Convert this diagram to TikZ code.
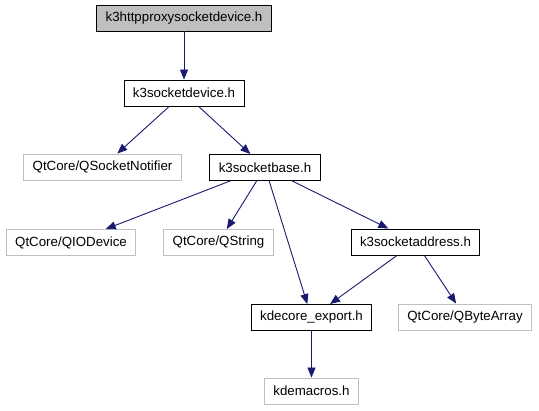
\documentclass[tikz,border=0pt]{standalone}
\usepackage{fontspec}
\setmainfont{Liberation Sans}
\usepackage{xcolor}
\usepackage{tikz}
\usetikzlibrary{arrows.meta,positioning}

\definecolor{edgeblue}{RGB}{25,25,112}
\definecolor{extgray}{RGB}{191,191,191}

\begin{document}
\begin{tikzpicture}[
            x=1pt, y=-1pt,
            font=\fontsize{13.3}{16}\selectfont,
        % Headers inside the project: black frame, white fill.
            hdr/.style={draw=black, rectangle, fill=white, line width=0.9pt,
            minimum height=26pt, inner xsep=9pt, inner ysep=2pt},
        % The file the graph is drawn for: gray fill.
            root/.style={hdr, fill=extgray},
        % External headers: light gray frame only.
            ext/.style={draw=extgray, rectangle, fill=white, line width=0.9pt,
            minimum height=26pt, inner xsep=9pt, inner ysep=2pt},
            inc/.style={-{Triangle[length=10pt,width=8pt]}, edgeblue, line width=0.9pt}
        ]
            \useasboundingbox (0,0) rectangle (539,411);

% --- top levels ---
            \node[root] (proxy) at (184,18)  {k3httpproxysocketdevice.h};
            \node[hdr]  (dev)   at (184,93)  {k3socketdevice.h};

% --- third row ---
            \node[ext] (notif) at (102.5,167) {QtCore/QSocketNotifier};
            \node[hdr] (base)  at (265,167.5) {k3socketbase.h};

% --- fourth row ---
            \node[ext] (iodev) at (71,242.5)    {QtCore/QIODevice};
            \node[ext] (qstr)  at (218.5,242.5) {QtCore/QString};
            \node[hdr] (addr)  at (415.5,242)   {k3socketaddress.h};

% --- bottom rows ---
            \node[hdr] (export) at (311.5,317.5) {kdecore\_export.h};
            \node[ext] (bytes)  at (465,317)     {QtCore/QByteArray};
            \node[ext] (macros) at (311.5,391)   {kdemacros.h};

% --- include arrows ---
            \draw[inc] (proxy)  -- (dev);
            \draw[inc] (dev)    -- (notif);
            \draw[inc] (dev)    -- (base);
            \draw[inc] (base)   -- (iodev);
            \draw[inc] (base)   -- (qstr);
            \draw[inc] (base)   -- (export);
            \draw[inc] (base)   -- (addr);
            \draw[inc] (addr)   -- (export);
            \draw[inc] (addr)   -- (bytes);
            \draw[inc] (export) -- (macros);
        \end{tikzpicture}
\end{document}
